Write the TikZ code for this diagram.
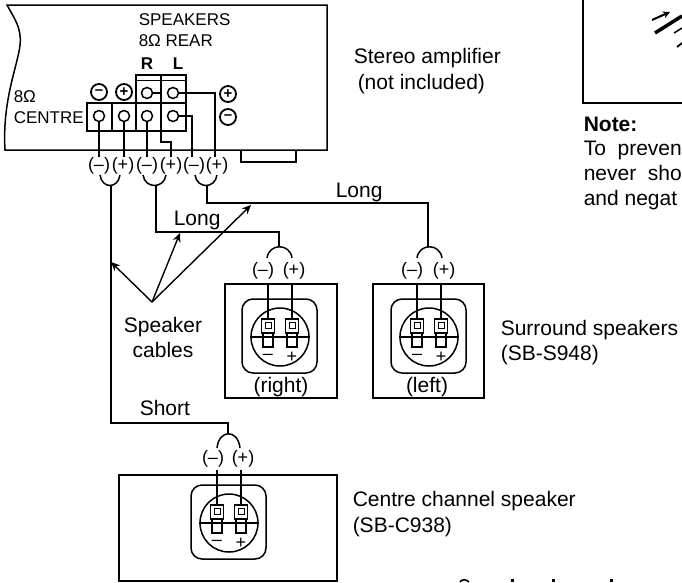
\documentclass[tikz,border=0pt]{standalone}
\usepackage{fontspec}
\setmainfont{Liberation Sans}
\usetikzlibrary{arrows.meta}

\begin{document}
\begin{tikzpicture}[x = 1pt, y = -1pt, line width = 1.5pt,
                        txt/.style = {anchor = base west, inner sep = 0pt, font = \fontsize{21}{21}\selectfont},
                        small/.style = {anchor = base west, inner sep = 0pt, font = \fontsize{17}{17}\selectfont},
                        polar/.style = {inner sep = 0pt, font = \fontsize{18}{18}\selectfont},
                        post/.style = {circle, draw, inner sep = 0pt, minimum size = 11pt},
                        sym/.style = {circle, draw, line width = 1.8pt, inner sep = 0pt, minimum size = 16pt, font = \fontsize{15}{15}\bfseries},
                        cell/.style = {rectangle, draw, line width = 1.3pt, inner sep = 0pt, minimum width = 13pt, minimum height = 14pt},
                        foot/.style = {rectangle, draw, line width = 1.3pt, inner sep = 0pt, minimum width = 10pt, minimum height = 14pt},
                        core/.style = {rectangle, draw, line width = 0.8pt, inner sep = 0pt, minimum size = 6pt},
                        wire/.style = {line width = 1.7pt},
                        pointer/.style = {line width = 1.4pt, -{Stealth[length = 9pt, width = 8pt]}},
                        speaker/.pic = {
                          \draw [rounded corners = 11pt] (-38, -38) rectangle (37, 36);
                          \node [circle, draw, inner sep = 0pt, minimum size = 58pt] (-dial) at (0, 0){};
                          \draw (-dial.west) -- (-dial.east);
                          \node [cell] (-tn) at (-12, -11){};
                          \node [cell] (-tp) at (12, -11){};
                          \node [core] (-cn) at (-12, -12){};
                          \node [core] (-cp) at (12, -12){};
                          \node [foot] (-fn) at (-12, 3){};
                          \node [foot] (-fp) at (12, 3){};
                          \node [polar] (-mn) at (-12, 20){--};
                          \node [polar] (-mp) at (12, 20){+};
                        }]
      \useasboundingbox (0, 0) rectangle (682, 582);
      \clip (0, 0) rectangle (682, 582);

      % amplifier
      \draw (7, 5) .. controls (14, 18) and (22, 28) .. (20, 45) .. controls (18, 65) and (2, 100) .. (5, 150) -- (327, 150) -- (327, 5) -- cycle;
      \draw (241, 150) -- (241, 162) -- (296, 162) -- (296, 150);
      \draw (87, 103) rectangle (186, 131);
      \draw (136, 75) rectangle (186, 103);
      \draw [line width = 0.7pt] (136, 80) -- (186, 80);
      \draw (112, 103) -- (112, 131);
      \draw (136, 103) -- (136, 131);
      \draw (161, 75) -- (161, 131);
      \node [small] (spk) at (138, 25){SPEAKERS};
      \node [small] (rear) at (138, 46){8Ω REAR};
      \node [small, font = \fontsize{17}{17}\bfseries, anchor = base] (chr) at (147, 69){R};
      \node [small, font = \fontsize{17}{17}\bfseries, anchor = base] (chl) at (178, 69){L};
      \node [small] (ohm) at (13, 102){8Ω};
      \node [small] (ctr) at (13, 123){CENTRE};
      \node [post] (p1) at (99, 116){};
      \node [post] (p2) at (124, 116){};
      \node [post] (p3) at (147, 116){};
      \node [post] (p4) at (173, 116){};
      \node [post] (p5) at (147, 93){};
      \node [post] (p6) at (173, 93){};
      \node [sym] (s1) at (99, 92){--};
      \node [sym] (s2) at (124, 92){+};
      \node [sym] (s3) at (228, 94){+};
      \node [sym] (s4) at (228, 117){--};

      % amplifier outputs
      \node [polar] (o1) at (99, 166){(--)};
      \node [polar] (o2) at (123, 166){(+)};
      \node [polar] (o3) at (147, 166){(--)};
      \node [polar] (o4) at (171, 166){(+)};
      \node [polar] (o5) at (194, 166){(--)};
      \node [polar] (o6) at (217, 166){(+)};
      \coordinate (w1) at (99, 157);
      \coordinate (w2) at (124, 157);
      \coordinate (w3) at (147, 157);
      \coordinate (w4) at (171, 157);
      \coordinate (w5) at (192, 157);
      \coordinate (w6) at (215, 157);
      \coordinate (b4) at (161, 142);
      \coordinate (b5) at (192, 116);
      \coordinate (b6) at (215, 93);
      \draw (p1) -- (w1);
      \draw (p2) -- (w2);
      \draw (p3) -- (w3);
      \draw (161, 131) -- (b4) -| (w4);
      \draw (p4) -- (b5) -- (w5);
      \draw (p6) -- (b6) -- (w6);
      \draw (p5) -- (161, 93);

      % loops under the outputs
      \coordinate (l1) at (100, 175);
      \coordinate (r1) at (120, 175);
      \coordinate (l2) at (143, 175);
      \coordinate (r2) at (166, 175);
      \coordinate (l3) at (195, 175);
      \coordinate (r3) at (217, 175);
      \draw (l1) .. controls +(2, 14) and +(-2, 14) .. (r1);
      \draw (l2) .. controls +(2, 14) and +(-2, 14) .. (r2);
      \draw (l3) .. controls +(2, 14) and +(-2, 14) .. (r3);

      % speakers
      \node [rectangle, draw, minimum width = 112pt, minimum height = 114pt, inner sep = 0pt] (rbox) at (281, 341){};
      \node [rectangle, draw, minimum width = 111pt, minimum height = 114pt, inner sep = 0pt] (lbox) at (428.5, 341){};
      \node [rectangle, draw, minimum width = 218pt, minimum height = 106pt, inner sep = 0pt] (cbox) at (228, 528){};
      \pic (rs) at (280, 337) {speaker};
      \pic (ls) at (429, 337) {speaker};
      \pic (cs) at (229, 523) {speaker};
      \node [polar] (rn) at (263, 271){(--)};
      \node [polar] (rp) at (294, 271){(+)};
      \node [polar] (ln) at (412, 271){(--)};
      \node [polar] (lp) at (444, 271){(+)};
      \node [polar] (cn) at (213, 459){(--)};
      \node [polar] (cp) at (243, 459){(+)};
      \coordinate (ra) at (268, 283);
      \coordinate (rb) at (292, 283);
      \coordinate (la) at (417, 283);
      \coordinate (lb) at (441, 283);
      \coordinate (ca) at (217, 470);
      \coordinate (cb) at (241, 470);
      \draw (ra) -- (rs-tn.north);
      \draw (rb) -- (rs-tp.north);
      \draw (la) -- (ls-tn.north);
      \draw (lb) -- (ls-tp.north);
      \draw (ca) -- (cs-tn.north);
      \draw (cb) -- (cs-tp.north);

      % loops above the speakers
      \coordinate (rl) at (267, 258);
      \coordinate (rr) at (292, 258);
      \coordinate (ll) at (417, 258);
      \coordinate (lr) at (442, 258);
      \coordinate (cl) at (217, 448);
      \coordinate (cr) at (240, 448);
      \draw (rl) .. controls +(2, -15) and +(-2, -15) .. (rr);
      \draw (ll) .. controls +(2, -15) and +(-2, -15) .. (lr);
      \draw (cl) .. controls +(2, -19) and +(-2, -19) .. (cr);

      % cables
      \coordinate (ct) at (111, 185);
      \coordinate (cc) at (228, 423);
      \coordinate (cd) at (228, 434);
      \coordinate (rt) at (156, 185);
      \coordinate (rc) at (279, 232);
      \coordinate (rd) at (279, 247);
      \coordinate (lt) at (207, 185);
      \coordinate (lc) at (428, 203);
      \coordinate (ld) at (428, 247);
      \draw [wire] (ct) |- (cc) -- (cd);
      \draw [wire] (rt) |- (rc) -- (rd);
      \draw [wire] (lt) |- (lc) -- (ld);
      \coordinate (cab) at (152, 302);
      \coordinate (c1) at (111, 262);
      \coordinate (c2) at (180, 233);
      \coordinate (c3) at (251, 205);
      \draw [pointer] (cab) -- (c1);
      \draw [pointer] (cab) -- (c2);
      \draw [pointer] (cab) -- (c3);

      % texts
      \node [txt] (amp) at (353, 63){Stereo amplifier};
      \node [txt] (amp2) at (357, 89){(not included)};
      \node [txt] (lng1) at (335, 197){Long};
      \node [txt] (lng2) at (173, 225){Long};
      \node [txt] (sht) at (139, 415){Short};
      \node [txt, anchor = base] (cbl1) at (163, 332){Speaker};
      \node [txt, anchor = base] (cbl2) at (163, 357){cables};
      \node [txt, anchor = base] (rgt) at (281, 392){(right)};
      \node [txt, anchor = base] (lft) at (427, 392){(left)};
      \node [txt] (sur) at (500, 335){Surround speakers};
      \node [txt] (sur2) at (500, 360){(SB-S948)};
      \node [txt] (cen) at (352, 506){Centre channel speaker};
      \node [txt] (cen2) at (352, 532){(SB-C938)};

      % note at the right
      \draw (583, 0) -- (583, 103) -- (682, 103);
      \draw [line width = 2pt, -{Stealth[length = 7pt, width = 7pt]}] (652, 20) -- (670, 12);
      \draw [line width = 3.5pt] (655, 33) -- (682, 16);
      \draw (674, 33) -- (682, 28);
      \draw [line width = 1.8pt] (677, 47) -- (682, 43);
      \node [txt, font = \fontsize{21}{21}\bfseries] (note) at (583, 131){Note:};
      \node [txt] (nt1) at (583, 155){To\ \ preven};
      \node [txt] (nt2) at (583, 180){never\ \ sho};
      \node [txt] (nt3) at (583, 205){and negat};

      % tops of the line cut off below
      \draw [line width = 1.6pt] (460, 582) .. controls (462, 579) and (466, 579) .. (469, 582);
      \fill (511, 579) rectangle (514, 582);
      \fill (552, 579) rectangle (555, 582);
      \fill (610, 579) rectangle (613, 582);
\end{tikzpicture}
\end{document}
